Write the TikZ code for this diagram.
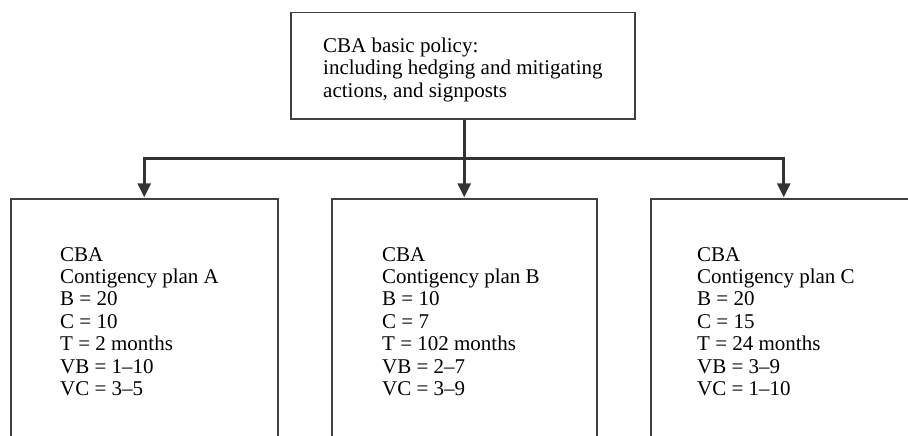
\documentclass[tikz,border=0pt]{standalone}
\usepackage{fontspec}
\setmainfont{Liberation Serif}
\usetikzlibrary{arrows.meta}
\begin{document}
\begin{tikzpicture}[x=1pt,y=-1pt,
  boxnode/.style={draw=black!75,line width=1.5pt,rectangle,inner sep=0pt,anchor=north west},
  txt/.style={anchor=base west,align=left,inner sep=0pt,font=\fontsize{21}{22.4}\selectfont},
  conn/.style={draw=black!80,line width=3pt},
  arr/.style={conn,-{Triangle[width=13pt,length=14pt]},shorten >=0.7pt}]
\useasboundingbox (0,0) rectangle (908,436);
% boxes
\node[boxnode,minimum width=344pt,minimum height=106pt] (top) at (290,12) {};
\node[boxnode,minimum width=267pt,minimum height=300pt] (a) at (10,198) {};
\node[boxnode,minimum width=265pt,minimum height=300pt] (b) at (331,198) {};
\node[boxnode,minimum width=266pt,minimum height=300pt] (c) at (650,198) {};
% texts (anchor at the baseline of the last line)
\node[txt] (ttop) at (323,97) {CBA basic policy:\\including hedging and mitigating\\actions, and signposts};
\node[txt] (ta) at (60,395.4) {CBA\\Contigency plan A\\B = 20\\C = 10\\T = 2 months\\VB = 1–10\\VC = 3–5};
\node[txt] (tb) at (382,395.4) {CBA\\Contigency plan B\\B = 10\\C = 7\\T = 102 months\\VB = 2–7\\VC = 3–9};
\node[txt] (tc) at (697,395.4) {CBA\\Contigency plan C\\B = 20\\C = 15\\T = 24 months\\VB = 3–9\\VC = 1–10};
% connectors
\coordinate (j) at (b.north |- 0,158);
\draw[conn] (j |- top.south) -- (j);
\draw[arr] (j) -| (a.north);
\draw[arr] (j) -- (b.north);
\draw[arr] (j) -| (c.north);
\end{tikzpicture}
\end{document}
